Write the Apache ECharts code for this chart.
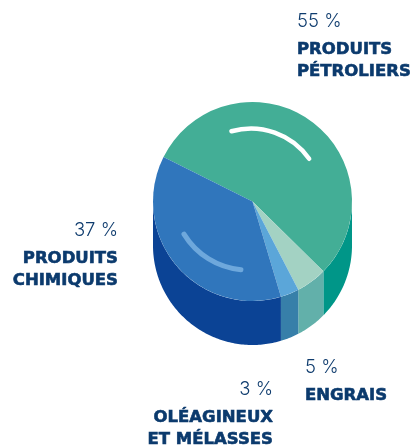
<!DOCTYPE html>
<html><head><meta charset="utf-8">
<style>html,body{margin:0;padding:0;background:#fff}#c{width:415px;height:445px}</style>
<script src="https://cdn.jsdelivr.net/npm/echarts@6/dist/echarts.min.js"></script>
</head><body><div id="c"></div>
<script>
const categories = ['PRODUITS\nPÉTROLIERS', 'ENGRAIS', 'OLÉAGINEUX\nET MÉLASSES', 'PRODUITS\nCHIMIQUES'];
const values = [55, 5, 3, 37];
const topColors = ['#43ae96', '#a3d2c3', '#5ba6d9', '#3076bc'];
const sideColors = ['#009688', '#62b0aa', '#377fa9', '#0b4395'];
const labelPos = [
  {x: 297, y: 3, align: 'left'},
  {x: 118, y: 212, align: 'right'},
  {x: 305, y: 349, align: 'left'},
  {x: 273, y: 371, align: 'right'}
];
const labelOrder = [0, 2, 3, 1];
const cx = 252.5, cy = 201.5, R = 99.5, depth = 44, startDeg = 153.4;

const chart = echarts.init(document.getElementById('c'), null, {renderer: 'canvas'});
const total = values.reduce((a, b) => a + b, 0);
let acc = 0;
const sideData = values.map((v, i) => { const s = acc; acc += v; return [s, acc, i]; });

function renderSide(params, api) {
  const i = api.value(2);
  const toAngle = p => (-startDeg + p / total * 360);
  let a0 = toAngle(api.value(0)), a1 = toAngle(api.value(1));
  const parts = [];
  for (const k of [-360, 0, 360]) {
    const lo = Math.max(a0, k), hi = Math.min(a1, k + 180);
    if (hi > lo) parts.push([lo, hi]);
  }
  return {
    type: 'group',
    children: parts.map(([lo, hi]) => {
      const pts = [];
      const n = Math.max(2, Math.ceil(hi - lo));
      for (let j = 0; j <= n; j++) {
        const t = (lo + (hi - lo) * j / n) * Math.PI / 180;
        pts.push([cx + R * Math.cos(t), cy + R * Math.sin(t)]);
      }
      for (let j = n; j >= 0; j--) {
        const t = (lo + (hi - lo) * j / n) * Math.PI / 180;
        pts.push([cx + R * Math.cos(t), cy + depth + R * Math.sin(t)]);
      }
      return {type: 'polygon', shape: {points: pts}, style: {fill: sideColors[i]}};
    })
  };
}

chart.setOption({
  animation: false,
  graphic: {elements: [
    {type: 'arc', z: 100, shape: {cx: 251, cy: 199.5, r: 71,
      startAngle: -106 * Math.PI / 180, endAngle: -35 * Math.PI / 180, clockwise: true},
      style: {fill: 'none', stroke: '#ffffff', lineWidth: 4.5, lineCap: 'round'}},
    {type: 'arc', z: 100, shape: {cx: 248, cy: 195, r: 75,
      startAngle: 95.4 * Math.PI / 180, endAngle: 148.6 * Math.PI / 180, clockwise: true},
      style: {fill: 'none', stroke: '#6ea8dc', lineWidth: 5, lineCap: 'round'}}
  ]},
  series: [
    {type: 'custom', coordinateSystem: 'none', z: 1, silent: true, data: sideData, renderItem: renderSide},
    {type: 'pie', z: 2, silent: true,
      center: [cx, cy], radius: [0, R], startAngle: startDeg, clockwise: true,
      minShowLabelAngle: 0, avoidLabelOverlap: false,
      labelLine: {show: false},
      label: {
        show: true, position: 'outside',
        formatter: p => '{p|' + p.value + ' %}\n{n|' + p.name + '}',
        rich: {
          p: {fontFamily: 'Inter', fontWeight: 300, fontSize: 18.5, color: '#0f3c6e', lineHeight: 36},
          n: {fontFamily: 'DejaVu Sans', fontWeight: 700, fontSize: 16.5, color: '#0b3a6d', lineHeight: 21.5,
              textBorderColor: '#0b3a6d', textBorderWidth: 0.6}
        }
      },
      labelLayout: p => {
        const q = labelPos[labelOrder[p.dataIndex]];
        return {x: q.x, y: q.y, align: q.align, verticalAlign: 'top'};
      },
      data: values.map((v, i) => ({value: v, name: categories[i], itemStyle: {color: topColors[i]},
        label: {align: labelPos[labelOrder[i]].align}}))
    }
  ]
});
</script></body></html>
